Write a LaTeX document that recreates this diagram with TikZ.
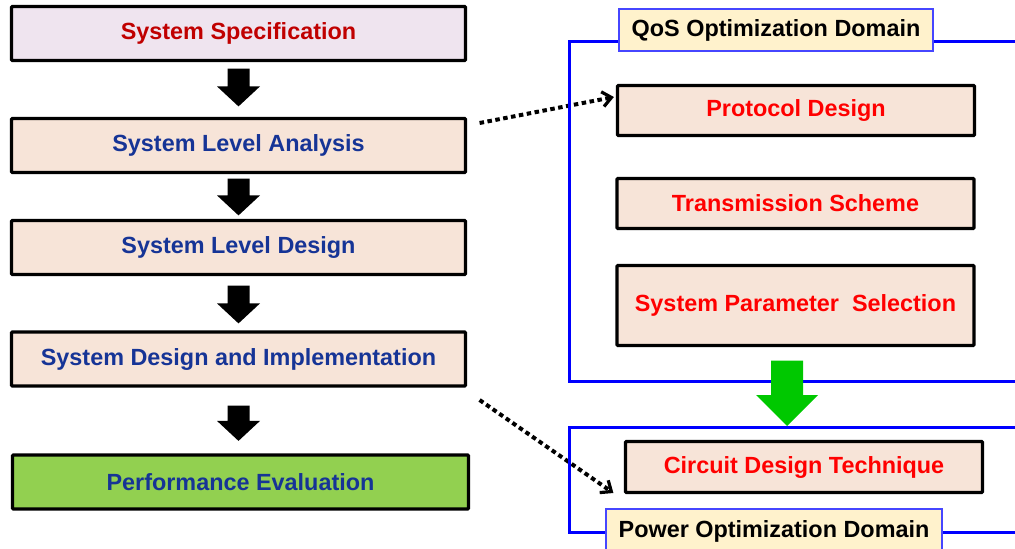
\documentclass[tikz,border=0pt]{standalone}
\usepackage{fontspec}
\setmainfont{Liberation Sans}
\usetikzlibrary{arrows.meta,calc}

\definecolor{lavender}{RGB}{239,228,239}
\definecolor{peach}{RGB}{247,228,216}
\definecolor{leaf}{RGB}{146,208,80}
\definecolor{darkred}{RGB}{192,0,0}
\definecolor{navy}{RGB}{22,52,150}
\definecolor{brightred}{RGB}{255,0,0}
\definecolor{cream}{RGB}{255,242,204}
\definecolor{framebl}{RGB}{0,0,255}
\definecolor{labelbl}{RGB}{70,70,255}
\definecolor{arrowgreen}{RGB}{0,200,0}

% downward block arrow: #1 colour, #2 top of shaft, #3 tip,
% #4 half shaft width, #5 half head width, #6 head length
\newcommand\blockdown[6]{%
  \fill[#1] let \p1=#2, \p2=#3 in
    (\x1-#4,\y1) -- (\x1+#4,\y1) -- (\x1+#4,\y2+#6) -- (\x1+#5,\y2+#6)
    -- (\x1,\y2) -- (\x1-#5,\y2+#6) -- (\x1-#4,\y2+#6) -- cycle;}

\begin{document}
\begin{tikzpicture}[x=1pt,y=-1pt,
  txt/.style={font=\fontsize{23.4}{28}\selectfont\bfseries},
  box/.style={txt, draw=black, line width=3.2pt, rounded corners=1pt, inner sep=0pt},
  stagebox/.style={box, minimum width=454pt, minimum height=54pt, fill=peach, text=navy},
  optbox/.style={box, minimum width=357pt, minimum height=50pt, fill=peach, text=brightred},
  domframe/.style={draw=framebl, line width=3pt, inner sep=0pt, minimum width=470pt},
  domlabel/.style={txt, draw=labelbl, line width=1.3pt, fill=cream, text=black, inner sep=0pt},
  dotted link/.style={draw=black, line width=4pt, dash pattern=on 4.5pt off 3.5pt,
    -{Straight Barb[length=9pt,width=15pt,line width=3.2pt]}}
]
\path[use as bounding box] (0,0) rectangle (1015,549);
\clip (0,0) rectangle (1015,549);

% design flow on the left
\node[stagebox, fill=lavender, text=darkred] (spec) at (238.5,33.5) {System Specification};
\node[stagebox] (sla) at (238.5,145.5) {System Level Analysis};
\node[stagebox] (sld) at (238.5,247.5) {System Level Design};
\node[stagebox] (sdi) at (238.5,359) {System Design and Implementation};
\node[stagebox, fill=leaf, minimum width=456pt] (perf) at (240.5,482) {Performance Evaluation};

\blockdown{black}{($(spec.south)+(0,6.5)$)}{($(sla.north)+(0,-10.5)$)}{11pt}{21.5pt}{20pt}
\blockdown{black}{($(sla.south)+(0,4.5)$)}{($(sld.north)+(0,-3.5)$)}{11pt}{21.5pt}{20pt}
\blockdown{black}{($(sld.south)+(0,9.5)$)}{($(sdi.north)+(0,-7)$)}{11pt}{21.5pt}{20pt}
\blockdown{black}{($(sdi.south)+(0,18)$)}{($(perf.north)+(0,-12.5)$)}{11pt}{21.5pt}{20pt}

% boxes inside the optimization domains
\node[optbox] (pd) at (796,110.5) {Protocol Design};
\node[optbox] (ts) at (795.5,203.5) {Transmission Scheme};
\node[optbox, minimum height=80pt] (sps) at (795.5,305.5) {System Parameter~ Selection};
\node[optbox, minimum height=51pt] (cdt) at (804,467) {Circuit Design Technique};

% cross links between the flow and the domains (under the frame lines)
\coordinate (l1) at ($(sla.east)+(12.5,-22.5)$);
\coordinate (l2) at ($(sdi.east)+(12.5,41)$);
\draw[dotted link] (l1) -- ($(pd.west)+(-2,-13.5)$);
\draw[dotted link] (l2) -- ($(cdt.west)+(-10.5,26)$);

% domain frames, open to the right
\node[domframe, anchor=north west, minimum height=340pt] (qos) at (568,40) {};
\node[domframe, anchor=north west, minimum height=105pt] (power) at (568,426) {};

\node[domlabel, minimum width=314pt, minimum height=42pt] (qoslabel) at (776,30) {QoS Optimization Domain};
\node[domlabel, minimum width=336pt, minimum height=44pt] (powerlabel) at (774,531) {Power Optimization Domain};

\coordinate (gtop) at ($(sps.south)+(-8.5,13.5)$);
\blockdown{arrowgreen}{(gtop)}{(gtop |- power.north)}{16pt}{31pt}{31pt}
\end{tikzpicture}
\end{document}
